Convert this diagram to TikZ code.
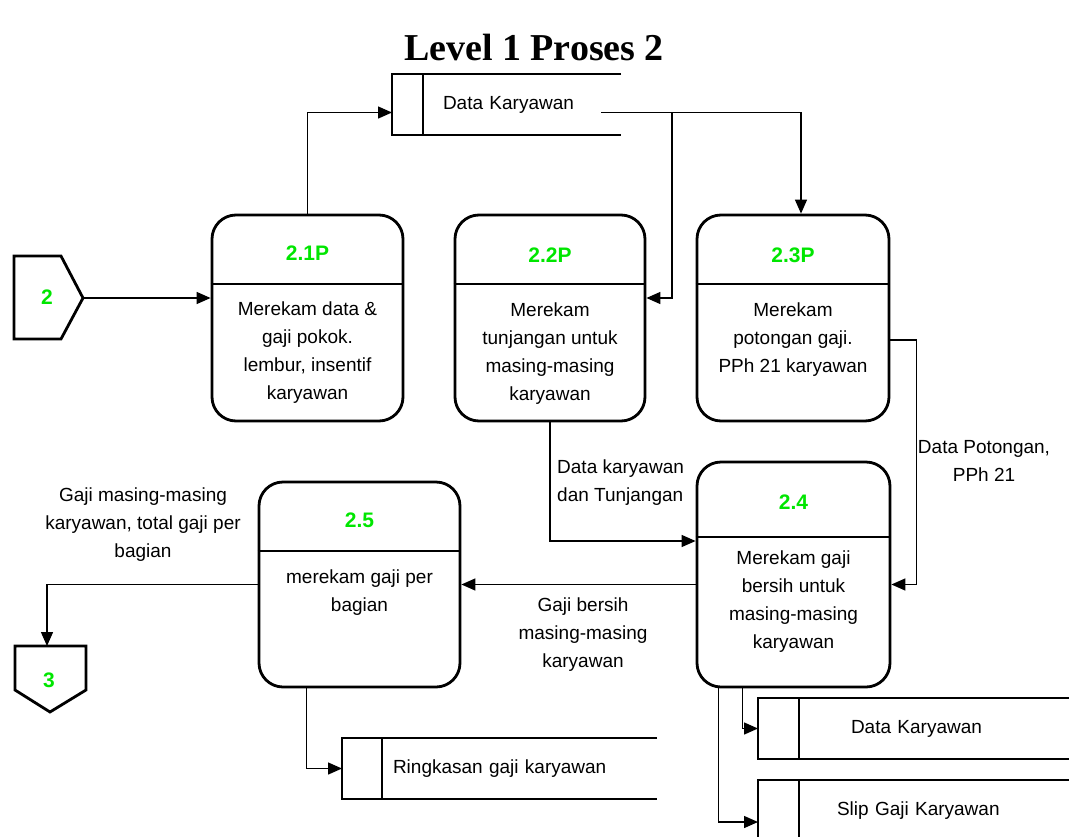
\documentclass[tikz,border=0pt]{standalone}
\usepackage{fontspec}
\setmainfont{Liberation Sans}
\newfontfamily\titlefont{Liberation Serif}
\usetikzlibrary{arrows.meta}
\definecolor{pgreen}{RGB}{0,230,0}
\newcommand\dfdfont{\fontsize{19pt}{28pt}\selectfont}
\newcommand\idfont{\fontsize{21pt}{24pt}\selectfont\bfseries}
\tikzset{
  wall/.style={line width=2.8pt},
  flow/.style={line width=1.4pt, -{Triangle[length=14pt,width=12pt]}},
  procbox/.style={draw, line width=2.8pt, rounded corners=24pt, minimum width=#1, inner sep=0pt},
  pid/.style={font=\idfont, text=pgreen, inner sep=0pt},
  ptext/.style={font=\dfdfont, align=center, anchor=north, inner sep=0pt},
  flowlabel/.style={font=\dfdfont, align=center, anchor=north, inner sep=0pt},
  store/.style={font=\dfdfont, anchor=north west, minimum height=61pt, inner sep=0pt, outer sep=0pt, text width=#1, align=left},
}
\begin{document}
\begin{tikzpicture}[x=1pt, y=-1pt]
\useasboundingbox (0,0) rectangle (1069,836);
\fill[white] (0,0) rectangle (1069,836);
\clip (0,0) rectangle (1069,836);

% title
\node[font=\titlefont\fontsize{38pt}{42pt}\selectfont\bfseries, inner sep=0pt] (title) at (534,47) {Level 1 Proses 2};

% off-page connector 2
\draw[wall] (14,256) -- (61,256) -- (83,298) -- (61,339) -- (14,339) -- cycle;
\node[pid] (c2) at (47,297) {2};
\coordinate (c2tip) at (83,298);

% off-page connector 3
\draw[wall] (15,646) -- (86,646) -- (86,690) -- (50,712) -- (15,690) -- cycle;
\node[pid] (c3) at (49,680) {3};
\coordinate (c3top) at (47,646);

% processes
\node[procbox=191pt, minimum height=206pt] (p21) at (307.5,318) {};
\draw[wall] (p21.west |- 0,284) -- (p21.east |- 0,284);
\node[pid] (p21id) at (307.5,253) {2.1P};
\node[ptext] (p21t) at (307.5,302) {Merekam data \&\\gaji pokok.\\lembur, insentif\\karyawan};

\node[procbox=190pt, minimum height=206pt] (p22) at (550,318) {};
\draw[wall] (p22.west |- 0,284) -- (p22.east |- 0,284);
\node[pid] (p22id) at (550,255) {2.2P};
\node[ptext] (p22t) at (550,303) {Merekam\\tunjangan untuk\\masing-masing\\karyawan};

\node[procbox=192pt, minimum height=206pt] (p23) at (793,318) {};
\draw[wall] (p23.west |- 0,284) -- (p23.east |- 0,284);
\node[pid] (p23id) at (793,255) {2.3P};
\node[ptext] (p23t) at (793,303) {Merekam\\potongan gaji.\\PPh 21 karyawan};

\node[procbox=193pt, minimum height=225pt] (p24) at (793.5,574.5) {};
\draw[wall] (p24.west |- 0,537) -- (p24.east |- 0,537);
\node[pid] (p24id) at (793.5,502) {2.4};
\node[ptext] (p24t) at (793.5,551) {Merekam gaji\\bersih untuk\\masing-masing\\karyawan};

\node[procbox=201pt, minimum height=205pt] (p25) at (359.5,584.5) {};
\draw[wall] (p25.west |- 0,551) -- (p25.east |- 0,551);
\node[pid] (p25id) at (359.5,520) {2.5};
\node[ptext] (p25t) at (359.5,570) {merekam gaji per\\bagian};

% data stores (open on the right)
\node[store=229pt] (ts) at (392,74) {\hspace*{51pt}Data Karyawan};
\draw[wall] (ts.north east) -- (ts.north west) -- (ts.south west) -- (ts.south east);
\draw[wall] ([xshift=31pt]ts.north west) -- ([xshift=31pt]ts.south west);

\node[store=315pt] (rs) at (342,738) {\hspace*{51pt}Ringkasan gaji karyawan};
\draw[wall] (rs.north east) -- (rs.north west) -- (rs.south west) -- (rs.south east);
\draw[wall] ([xshift=40pt]rs.north west) -- ([xshift=40pt]rs.south west);

\node[store=320pt] (s1) at (758,698) {\hspace*{93pt}Data Karyawan};
\draw[wall] (s1.north east) -- (s1.north west) -- (s1.south west) -- (s1.south east);
\draw[wall] ([xshift=41pt]s1.north west) -- ([xshift=41pt]s1.south west);

\node[store=320pt] (s2) at (758,780) {\hspace*{79pt}Slip Gaji Karyawan};
\draw[wall] (s2.north east) -- (s2.north west) -- (s2.south west) -- (s2.south east);
\draw[wall] ([xshift=41pt]s2.north west) -- ([xshift=41pt]s2.south west);

% data flows
\coordinate (j1) at (672,112);
\draw[flow] (c2tip) -- (p21.west |- c2tip);
\draw[flow] (p21.north) |- ([yshift=-8pt]ts.west);
\draw[flow] ([xshift=-20pt,yshift=-8pt]ts.east) -| ([xshift=8pt]p23.north);
\draw[flow] (j1) |- ([yshift=20pt]p22.east);
\draw[flow] (p22.south) |- ([yshift=33.5pt]p24.west);
\draw[flow] ([yshift=-22pt]p23.east) -- ++(26,0) |- (p24.east |- p25.east);
\draw[flow] (p24.west |- p25.east) -- (p25.east);
\draw[flow] (p25.west) -| (c3top);
\draw[flow] ([xshift=49pt]p25.south west) |- (rs.west);
\draw[flow] ([xshift=47pt]p24.south west) |- (s1.west);
\draw[flow] ([xshift=23pt]p24.south west) |- ([yshift=-11.5pt]s2.west);

% flow labels
\node[flowlabel] (lpot) at (984,440) {Data Potongan,\\PPh 21};
\node[flowlabel, anchor=north west, align=left] (ltun) at (557,460) {Data karyawan\\dan Tunjangan};
\node[flowlabel] (lber) at (583,598) {Gaji bersih\\masing-masing\\karyawan};
\node[flowlabel] (ltot) at (143,488) {Gaji masing-masing\\karyawan, total gaji per\\bagian};
\end{tikzpicture}
\end{document}
